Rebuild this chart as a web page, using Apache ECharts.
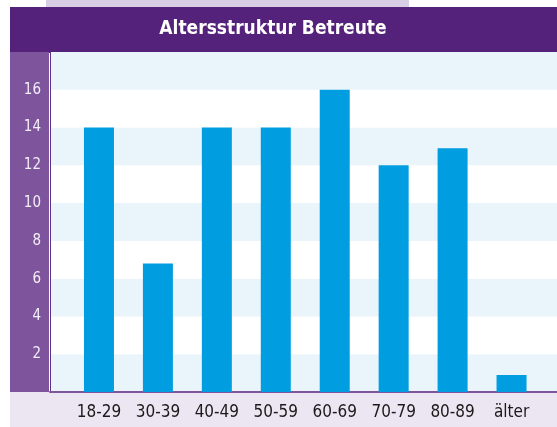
<!DOCTYPE html>
<html>
<head>
<meta charset="utf-8">
<title>Altersstruktur Betreute</title>
<script src="https://cdn.jsdelivr.net/npm/echarts@6/dist/echarts.min.js"></script>
<style>
    html,body{margin:0;padding:0;background:#ffffff;}
    #container{width:557px;height:427px;}
</style>
</head>
<body>
<div id="container"></div>
<script>
    // Daten
    var categories=['18-29','30-39','40-49','50-59','60-69','70-79','80-89','älter'];
    var values=[14,6.8,14,14,16,12,12.9,0.9];
    var yTicks=[2,4,6,8,10,12,14,16];

    var fontFam="'DejaVu Sans Condensed','Liberation Sans Narrow',sans-serif";
    var dom=document.getElementById("container");
    var myChart=echarts.init(dom);
    var option=null;
    option={
        backgroundColor:'#ffffff',
        animation:false,
        title:{
            text:'Altersstruktur Betreute',
            left:268,
            top:15,
            textAlign:'center',
            textStyle:{
                color:'#ffffff',
                fontSize:19,
                fontWeight:'bold',
                fontFamily:fontFam
            }
        },
        graphic:[
            {type:'rect',silent:true,z:-10,shape:{x:46,y:0,width:363,height:7},style:{fill:'#d9cfe4'}}
            ,{type:'rect',silent:true,z:-10,shape:{x:10,y:7,width:547,height:46},style:{fill:'#55227b'}}
            ,{type:'rect',silent:true,z:-10,shape:{x:10,y:52,width:39,height:340},style:{fill:'#7e559c'}}
            ,{type:'rect',silent:true,z:-10,shape:{x:10,y:392,width:547,height:35},style:{fill:'#ece5f2'}}
        ],
        grid:[
            {left:50,right:0,top:52,bottom:35}  // Hintergrund
            ,{left:69.5,right:16,top:52,bottom:35} // Balken
        ],
        xAxis:[{
            gridIndex:0,
            type:'category',
            data:[''],
            axisLine:{show:true,lineStyle:{color:'#7e559c',width:2}},
            axisTick:{show:false},
            axisLabel:{show:false}
        },{
            gridIndex:1,
            type:'category',
            data:categories,
            axisLine:{show:false},
            axisTick:{show:false},
            axisLabel:{
                interval:0,
                color:'#1a1a1a',
                fontSize:17,
                fontFamily:fontFam,
                margin:12
            }
        }],
        yAxis:[{
            gridIndex:0,
            type:'value',
            min:0,
            max:18,
            interval:2,
            axisLine:{show:true,lineStyle:{color:'#5e3386',width:1}},
            axisTick:{show:false},
            splitLine:{show:false},
            splitArea:{show:true,areaStyle:{color:['#e9f4fb','#ffffff']}},
            axisLabel:{
                color:'#f3eef7',
                fontSize:15,
                fontFamily:fontFam,
                margin:9,
                formatter:function(v){
                    return yTicks.indexOf(v)>=0?String(v):'';
                }
            }
        },{
            gridIndex:1,
            type:'value',
            min:0,
            max:18,
            interval:2,
            show:false,
            splitLine:{show:false}
        }],
        series:[{
            type:'bar',
            xAxisIndex:1,
            yAxisIndex:1,
            data:values,
            barWidth:30,
            itemStyle:{color:'#009ee0'}
        }]
    };
    if(option && typeof option==="object"){
        myChart.setOption(option,true);
    }
</script>
</body>
</html>
